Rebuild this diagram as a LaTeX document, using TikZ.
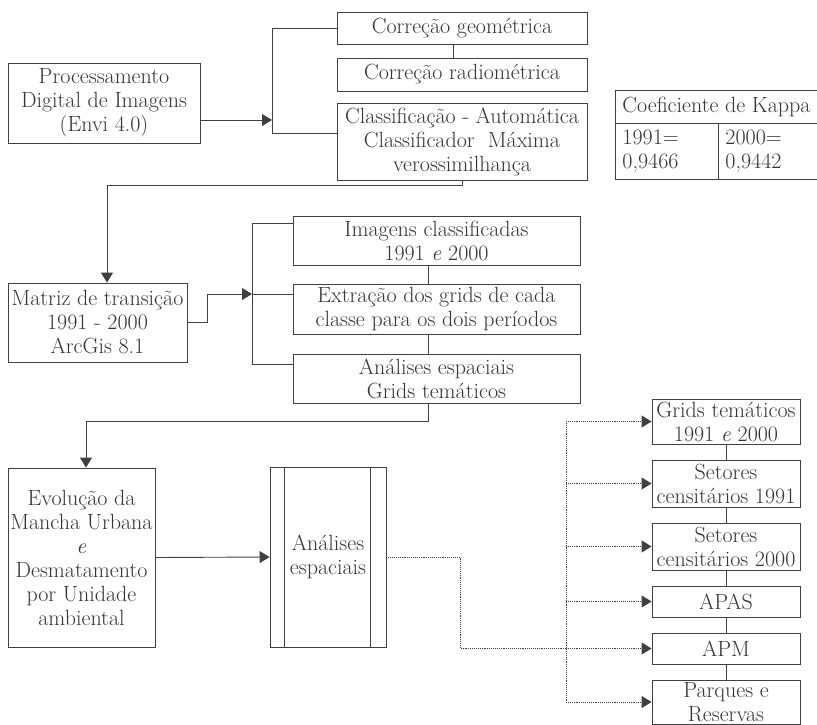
\documentclass[tikz,border=0pt]{standalone}
\usepackage{fontspec}
\usetikzlibrary{arrows.meta}
\begin{document}
\begin{tikzpicture}[x=1pt, y=-1pt,
					every node/.style={font=\fontsize{22}{24}\selectfont, text=black!80},
					box/.style={draw=black!75, line width=0.9pt, align=center, inner sep=0pt},
					cell/.style={draw=black!75, line width=0.9pt, align=left, inner xsep=7pt, inner ysep=0pt, text width=#1},
					link/.style={draw=black!75, line width=0.9pt},
					arr/.style={link, -{Triangle[length=10pt, width=12pt]}},
					dots/.style={link, densely dotted},
					darr/.style={dots, -{Triangle[length=10pt, width=12pt]}}]
					\useasboundingbox (0,0) rectangle (817,724);
					% pre-processing
					\node[box, minimum width=192, minimum height=80] (pdi) at (104,103) {Processamento\\Digital de Imagens\\(Envi 4.0)};
					\node[box, minimum width=250, minimum height=32] (geo) at (462,28) {Correção geométrica};
					\node[box, minimum width=250, minimum height=33] (radio) at (462,74.5) {Correção radiométrica};
					\node[box, minimum width=250, minimum height=77] (classif) at (462,141.5) {Classificação - Automática\\Classificador~ Máxima\\verossimilhança};
					% kappa
					\node[box, minimum width=202, minimum height=33, anchor=north west] (khead) at (615,90) {Coeficiente de Kappa};
					\node[cell=89pt, minimum width=103, minimum height=56, anchor=north west] (k91) at (615,123) {1991=\\0,9466};
					\node[cell=85pt, minimum width=99, minimum height=56, anchor=north west] (k00) at (718,123) {2000=\\0,9442};
					% transition
					\node[box, minimum width=179, minimum height=79] (matriz) at (97.5,322.5) {Matriz de transição\\1991 - 2000\\ArcGis 8.1};
					\node[box, minimum width=287, minimum height=49] (img) at (436.5,240.5) {Imagens classificadas\\1991 \textit{e} 2000};
					\node[box, minimum width=287, minimum height=50] (extr) at (436.5,309) {Extração dos grids de cada\\classe para os dois períodos};
					\node[box, minimum width=287, minimum height=49] (anesp) at (436.5,378.5) {Análises espaciais\\Grids temáticos};
					% spatial analysis
					\node[box, minimum width=147, minimum height=179] (evol) at (81.5,557.5) {Evolução da\\Mancha Urbana\\\textit{e}\\Desmatamento\\por Unidade\\ambiental};
					\node[box, minimum width=116, minimum height=180] (ana) at (328,557) {Análises\\espaciais};
					\draw[link] ([xshift=15]ana.north west) -- ([xshift=15]ana.south west);
					\draw[link] ([xshift=-16]ana.north east) -- ([xshift=-16]ana.south east);
					% layers
					\node[box, minimum width=148, minimum height=45] (gt) at (726,421.5) {Grids temáticos\\1991 \textit{e} 2000};
					\node[box, minimum width=148, minimum height=47] (s91) at (726,483.5) {Setores\\censitários 1991};
					\node[box, minimum width=148, minimum height=47] (s00) at (726,546.5) {Setores\\censitários 2000};
					\node[box, minimum width=148, minimum height=31] (apas) at (726,601.5) {APAS};
					\node[box, minimum width=148, minimum height=31] (apm) at (726,648.5) {APM};
					\node[box, minimum width=148, minimum height=44] (parq) at (726,702) {Parques e\\Reservas};
					% junctions
					\coordinate (jA) at (272,120);
					\coordinate (jB1) at (207,294);
					\coordinate (jB) at (252,294);
					\coordinate (jC) at (428,421);
					\coordinate (jD) at (460,648);
					\coordinate (bus) at (566,423);
					% connectors
					\draw[arr] (pdi.east |- jA) -- (jA);
					\draw[link] (geo.west) -| (272,133) -- (classif.west |- 0,133);
					\draw[link] (geo.south -| 453,0) -- (radio.north -| 453,0);
					\draw[arr] (classif.south) |- (107,185) -- (matriz.north -| 107,0);
					\draw[arr] (matriz.east) -| (jB1) -- (jB);
					\draw[link] (jB) -- (extr.west |- jB);
					\draw[link] (img.west |- 0,223) -| (252,364) -- (anesp.west |- 0,364);
					\draw[link] (img.south -| 428,0) -- (extr.north -| 428,0);
					\draw[link] (extr.south -| 428,0) -- (anesp.north -| 428,0);
					\draw[arr] (anesp.south -| jC) -- (jC) -| (evol.north -| 86,0);
					\draw[arr] (evol.east) -- (ana.west);
					\draw[dots] (ana.east) -| (jD) -- (jD -| bus);
					\draw[dots] (bus) -- (bus |- parq.west);
					\foreach \n in {gt, s91, s00, apas, apm, parq}
						\draw[darr] (bus |- \n.west) -- (\n.west);
					\foreach \a/\b in {gt/s91, s91/s00, s00/apas, apas/apm, apm/parq}
						\draw[link] (\a.south) -- (\b.north);
				\end{tikzpicture}
\end{document}
